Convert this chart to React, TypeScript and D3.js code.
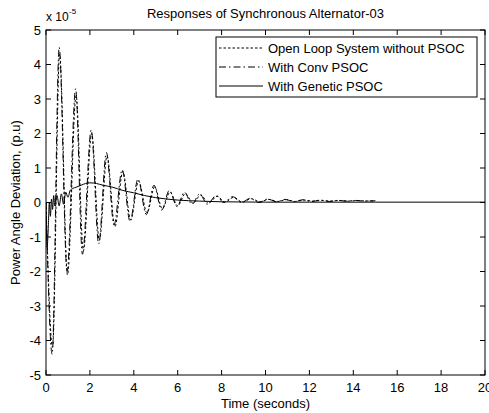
import React from "react";
import * as d3 from "d3";

const title = "Responses of Synchronous Alternator-03";
const xLabel = "Time (seconds)";
const yLabel = "Power Angle Deviation, (p.u)";
const xTicks = [0, 2, 4, 6, 8, 10, 12, 14, 16, 18, 20];
const yTicks = [-5, -4, -3, -2, -1, 0, 1, 2, 3, 4, 5];
const seriesNames = ["Open Loop System without PSOC", "With Conv PSOC", "With Genetic PSOC"];

// values in units of 1e-5
const openT = [0, 0.3, 0.62, 0.98, 1.37, 1.7, 2.08, 2.43, 2.78, 3.14, 3.5, 3.86, 4.22, 4.6, 4.95, 5.3, 5.65, 6.0, 6.35, 6.7, 7.05, 7.4, 7.8, 8.15, 8.55, 8.95, 9.35, 9.75, 10.15, 10.55, 10.95, 11.35, 11.75, 12.15, 12.55, 12.95, 13.35, 13.75, 14.15, 14.55, 15];
const openV = [0, -4.2, 4.3, -2.1, 3.1, -1.4, 2.0, -1.1, 1.35, -0.7, 0.9, -0.5, 0.62, -0.3, 0.45, -0.18, 0.3, -0.1, 0.26, -0.02, 0.22, -0.02, 0.18, 0.01, 0.15, 0.01, 0.11, 0.02, 0.09, 0.03, 0.08, 0.03, 0.07, 0.04, 0.06, 0.04, 0.06, 0.04, 0.055, 0.045, 0.05];

const convT = [0, 0.28, 0.6, 0.96, 1.35, 1.66, 2.06, 2.4, 2.75, 3.1, 3.47, 3.83, 4.19, 4.57, 4.92, 5.27, 5.62, 5.97, 6.3, 6.65, 7.0, 7.35, 7.75, 8.1, 8.5, 8.9, 9.3, 9.7, 10.1, 10.5, 10.9, 11.3, 11.7, 12.1, 12.5, 12.9, 13.3, 13.7, 14.1, 14.5, 15];
const convV = [0, -4.4, 4.5, -2.0, 3.3, -1.5, 2.1, -1.2, 1.45, -0.65, 0.95, -0.55, 0.68, -0.35, 0.5, -0.22, 0.35, -0.12, 0.3, -0.05, 0.25, -0.05, 0.2, 0.0, 0.17, 0.0, 0.12, 0.0, 0.1, 0.02, 0.09, 0.02, 0.08, 0.03, 0.07, 0.03, 0.06, 0.04, 0.06, 0.04, 0.05];

const genT = [0, 0.05, 0.1, 0.15, 0.2, 0.25, 0.3, 0.35, 0.4, 0.5, 0.6, 0.7, 0.8, 0.9, 1.0, 1.1, 1.2, 1.4, 1.6, 1.8, 2.0, 2.3, 2.6, 3.0, 3.5, 4.0, 4.5, 5.0, 5.5, 6.0, 7.0, 8.0, 10, 12, 15, 20];
const genV = [0, -1.3, -0.8, 0.0, -0.4, 0.1, -0.2, 0.2, -0.1, 0.2, -0.1, 0.25, -0.05, 0.3, 0.15, 0.35, 0.4, 0.45, 0.5, 0.55, 0.57, 0.55, 0.5, 0.45, 0.35, 0.28, 0.2, 0.14, 0.1, 0.07, 0.04, 0.02, 0.01, 0.01, 0.01, 0.01];

const W = 489, H = 413;
const L = 46, R = 485, T = 30, B = 375;
const FONT = "'Liberation Sans', Arial, sans-serif";

export default function App() {
  const x = d3.scaleLinear().domain([0, 20]).range([L, R]);
  const y = d3.scaleLinear().domain([-5, 5]).range([B, T]);
  const mk = (ts: number[], vs: number[], curve: any) =>
    d3.line<number>().x((_, i) => x(ts[i])).y((v) => y(v)).curve(curve)(vs) || "";
  const series = [
    { d: mk(openT, openV, d3.curveMonotoneX), dash: "2.5,2" },
    { d: mk(convT, convV, d3.curveMonotoneX), dash: "7,3,1.5,3" },
    { d: mk(genT, genV, d3.curveMonotoneX), dash: "none" },
  ];
  const tl = 5;
  const legY = [48, 67, 86];
  return (
    <svg width={W} height={H} style={{ position: "absolute", left: 0, top: 0, background: "#fff" }} fontFamily={FONT}>
      <rect x={0} y={0} width={W} height={H} fill="#fff" />
      <defs>
        <clipPath id="pc"><rect x={L} y={T} width={R - L} height={B - T} /></clipPath>
      </defs>
      <g clipPath="url(#pc)">
        {series.map((s, i) => (
          <path key={i} d={s.d} fill="none" stroke="#000" strokeWidth={1} strokeDasharray={s.dash} />
        ))}
      </g>
      <rect x={L} y={T} width={R - L} height={B - T} fill="none" stroke="#000" strokeWidth={1} />
      {xTicks.map((t) => (
        <g key={"x" + t}>
          <line x1={x(t)} x2={x(t)} y1={B} y2={B - tl} stroke="#000" />
          <line x1={x(t)} x2={x(t)} y1={T} y2={T + tl} stroke="#000" />
          <text x={x(t)} y={392} textAnchor="middle" fontSize={13}>{t}</text>
        </g>
      ))}
      {yTicks.map((t) => (
        <g key={"y" + t}>
          <line x1={L} x2={L + tl} y1={y(t)} y2={y(t)} stroke="#000" />
          <line x1={R} x2={R - tl} y1={y(t)} y2={y(t)} stroke="#000" />
          <text x={41} y={y(t) + 4.5} textAnchor="end" fontSize={13}>{t}</text>
        </g>
      ))}
      <text x={46} y={21} fontSize={12}>x 10</text>
      <text x={69} y={14} fontSize={8}>-5</text>
      <text x={(L + R) / 2} y={18} textAnchor="middle" fontSize={13}>{title}</text>
      <text x={(L + R) / 2} y={408} textAnchor="middle" fontSize={13}>{xLabel}</text>
      <text transform={`translate(20,${(T + B) / 2}) rotate(-90)`} textAnchor="middle" fontSize={13}>{yLabel}</text>
      <rect x={216} y={37} width={261} height={60} fill="#fff" stroke="#000" />
      {seriesNames.map((n, i) => (
        <g key={n}>
          <line x1={219} x2={263} y1={legY[i]} y2={legY[i]} stroke="#000" strokeDasharray={series[i].dash} />
          <text x={268} y={legY[i] + 4.5} fontSize={13}>{n}</text>
        </g>
      ))}
    </svg>
  );
}
